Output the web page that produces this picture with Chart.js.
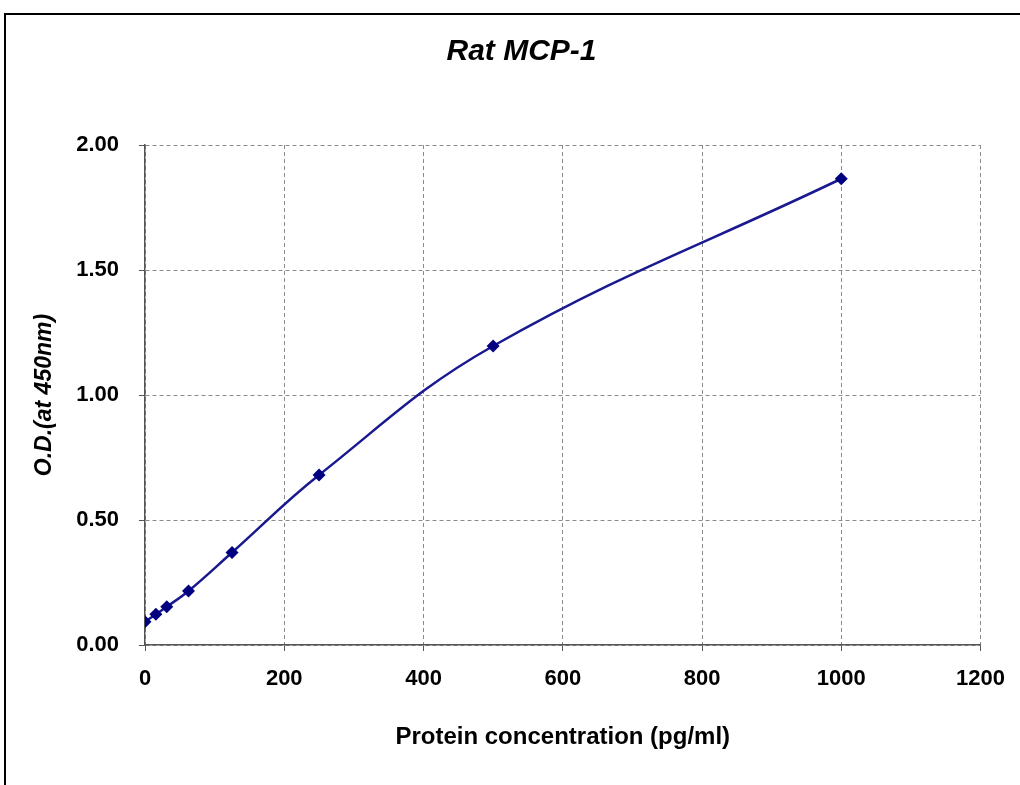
<!DOCTYPE html>
<html>
<head>
<meta charset="utf-8">
<script src="https://cdn.jsdelivr.net/npm/chart.js@4"></script>
<style>
  body { margin: 0; background: #fff; }
  #wrap { position: relative; width: 1020px; height: 785px; }
  #frame { position: absolute; left: 4px; top: 13px; right: -4px; bottom: -4px; border-left: 2px solid #000; border-top: 2px solid #000; }
  #curveChart { position: absolute; left: 0; top: 0; }
</style>
</head>
<body>
<div id="wrap">
  <div id="frame"></div>
  <canvas id="curveChart" width="1020" height="785"></canvas>
</div>
<script>
// curva estandar
const concentraciones = [0, 15.6, 31.25, 62.5, 125, 250, 500, 1000];
const densidades = [0.093, 0.123, 0.153, 0.216, 0.37, 0.68, 1.196, 1.865];
const ticksY = [0, 0.5, 1, 1.5, 2];

const puntos = concentraciones.map((c, i) => ({ x: c, y: densidades[i] }));

const ctx = document.getElementById("curveChart").getContext("2d");
new Chart(ctx, {
  type: "scatter",
  data: {
    datasets: [{
      label: "Rat MCP-1",
      data: puntos,
      showLine: true,
      borderColor: "#1a1a90",
      borderWidth: 2.5,
      backgroundColor: "#000080",
      pointStyle: "rectRot",
      pointRadius: 6.5,
      pointBorderWidth: 0,
      tension: 0.4
    }]
  },
  options: {
    responsive: false,
    animation: false,
    // el titulo queda centrado entre 62 y 981
    layout: { padding: { left: 62, right: 39, top: 0, bottom: 0 } },
    plugins: {
      legend: { display: false },
      tooltip: { enabled: false },
      title: {
        display: true,
        text: "Rat MCP-1",
        color: "#000",
        font: { family: "Liberation Sans", size: 30, weight: "bold", style: "italic" },
        padding: { top: 34, bottom: 75 }
      }
    },
    scales: {
      x: {
        type: "linear",
        min: 0, max: 1200,
        afterFit: s => { s.height = 140; },
        ticks: { stepSize: 200, color: "#000", padding: 15, callback: v => String(v), font: { family: "Liberation Sans", size: 22, weight: "bold" } },
        grid: { color: "#8a8a8a", tickBorderDash: [], tickColor: "#555", tickLength: 6 },
        border: { display: true, color: "#555", width: 1.5, dash: [4, 3] },
        title: {
          display: true,
          text: "Protein concentration (pg/ml)",
          color: "#000",
          font: { family: "Liberation Sans", size: 24, weight: "bold" },
          padding: { top: 0, bottom: 33 }
        }
      },
      y: {
        min: 0, max: 2,
        afterFit: s => { s.width = 83; },
        afterBuildTicks: s => { s.ticks = ticksY.map(v => ({ value: v })); },
        ticks: { color: "#000", padding: 20, callback: v => v.toFixed(2), font: { family: "Liberation Sans", size: 22, weight: "bold" } },
        grid: { color: "#8a8a8a", tickBorderDash: [], tickColor: "#555", tickLength: 6 },
        border: { display: true, color: "#555", width: 1.5, dash: [4, 3] },
        title: {
          display: true,
          text: "O.D.(at 450nm)",
          color: "#000",
          font: { family: "Liberation Sans", size: 23, weight: "bold", style: "italic" },
          padding: { top: -31, bottom: 0 }
        }
      }
    }
  }
});
</script>
</body>
</html>
